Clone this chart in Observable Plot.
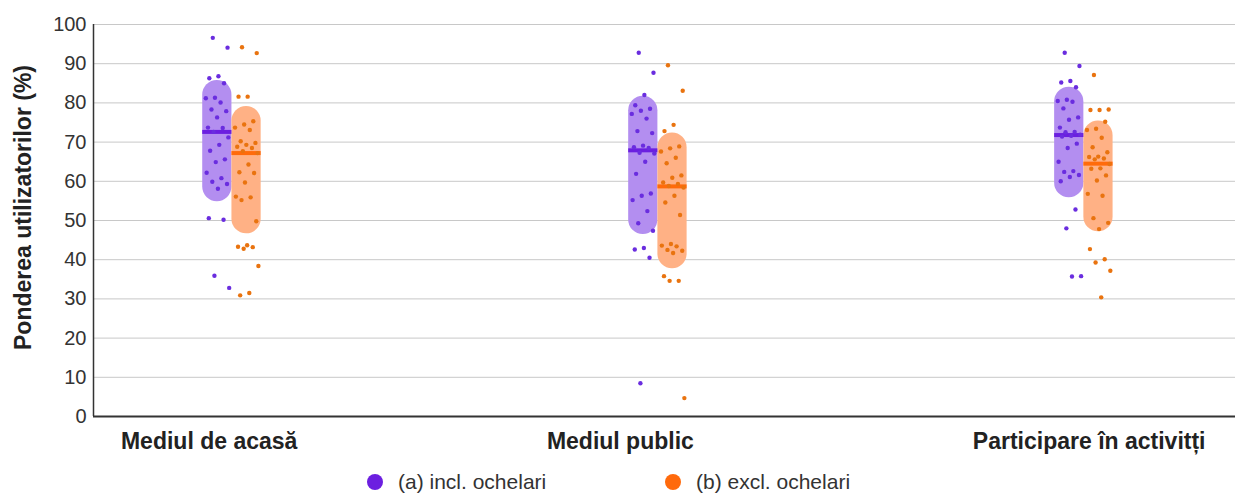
<!DOCTYPE html>
<html>
<head>
<meta charset="utf-8">
<script src="https://cdn.jsdelivr.net/npm/d3@7"></script>
<script src="https://cdn.jsdelivr.net/npm/@observablehq/plot@0.6"></script>
<style>
  body { margin: 0; background: #fff; font-family: "Liberation Sans", Arial, sans-serif; }
  #legend { display: flex; align-items: center; height: 40px; padding-left: 367px; font-size: 21px; color: #333; }
  #legend .item { display: flex; align-items: center; }
  #legend .item:first-child { width: 298px; }
  #legend .swatch { width: 16px; height: 16px; border-radius: 50%; margin-right: 15px; }
</style>
</head>
<body>
<div id="chart"></div>
<div id="legend"></div>
<script>
// Categories (x axis) and the two series
const categories = ["Mediul de acasă", "Mediul public", "Participare în activitți"];
const seriesNames = ["(a) incl. ochelari", "(b) excl. ochelari"];
const yTicks = [0, 10, 20, 30, 40, 50, 60, 70, 80, 90, 100];

// Individual shares (%) per category, including glasses
const acasaIncl = [96.6, 94.1, 86.8, 86.3, 85.0, 81.3, 81.2, 80.1, 78.3, 77.9, 76.3, 73.7, 73.6, 72.6, 71.2, 69.3, 67.8, 65.6, 64.9, 62.2, 60.8, 59.9, 59.3, 58.1, 50.6, 50.2, 35.9, 32.8];
const publicIncl = [92.8, 87.7, 82.0, 79.4, 78.5, 78.0, 77.2, 76.0, 72.8, 72.3, 69.1, 68.7, 68.5, 67.3, 67.1, 65.0, 61.9, 56.9, 56.3, 55.2, 52.4, 49.3, 47.4, 43.0, 42.6, 40.5, 8.5];
const activIncl = [92.8, 89.4, 85.6, 85.2, 84.0, 80.8, 80.5, 80.3, 78.6, 76.3, 75.7, 73.7, 72.6, 72.5, 71.9, 71.6, 71.4, 69.6, 68.5, 65.0, 62.6, 62.4, 61.6, 61.1, 60.0, 52.8, 48.0, 35.8, 35.7];

// Individual shares (%) per category, excluding glasses
const acasaExcl = [94.2, 92.7, 81.6, 81.6, 75.3, 74.5, 73.7, 73.1, 70.2, 69.8, 69.3, 68.8, 68.5, 67.7, 67.2, 64.3, 62.3, 62.1, 59.7, 56.1, 55.9, 55.2, 49.8, 43.7, 43.3, 43.2, 42.8, 38.4, 31.5, 30.9];
const publicExcl = [89.6, 83.1, 74.4, 72.8, 68.9, 68.4, 67.6, 66.0, 64.6, 61.5, 60.9, 59.7, 59.3, 58.8, 58.4, 56.3, 54.6, 51.4, 44.0, 43.6, 43.4, 42.5, 42.3, 41.7, 35.8, 34.6, 34.6, 4.7];
const activExcl = [87.1, 78.3, 78.2, 78.2, 75.2, 73.4, 73.1, 71.1, 68.7, 67.4, 66.3, 66.2, 65.8, 65.6, 64.4, 63.3, 63.2, 61.5, 60.2, 56.8, 56.3, 50.6, 49.4, 47.8, 42.7, 40.1, 39.3, 37.2, 30.4];

// Summary per category: central value and the range of the band
const inclCentre = [72.6, 67.9, 71.8];
const inclLow = [54.8, 46.4, 55.8];
const inclHigh = [85.7, 81.7, 84.0];
const exclCentre = [67.2, 58.7, 64.5];
const exclLow = [46.6, 37.7, 47.1];
const exclHigh = [79.1, 72.3, 75.4];

const colors = {
  dot: ["#6a2ddf", "#e9730f"],
  line: ["#6b1fe0", "#ff6b0b"],
  band: ["#b38ef0", "#ffb185"],
  legend: ["#6c1fe0", "#ff6a0c"]
};

// Layout of the x axis: groups sit at 0, 1, 2; each series takes one half-slot
const xDomain = [-0.325, 2.356];
const slot = 0.0686;      // width of a band
const jitterSpan = 0.028; // half-width of the horizontal spread of dots

const values = [[acasaIncl, acasaExcl], [publicIncl, publicExcl], [activIncl, activExcl]];
const summary = [[inclCentre, inclLow, inclHigh], [exclCentre, exclLow, exclHigh]];

// Deterministic spread of dots around each band centre (golden-ratio sequence)
const spread = k => (((k * 0.6180339887 + 0.31) % 1) - 0.5) * 2 * jitterSpan;

const dots = [];
const bands = [];
categories.forEach((cat, i) => {
  [0, 1].forEach(s => {
    const x1 = s === 0 ? i - slot : i;
    const x2 = s === 0 ? i : i + slot;
    const mid = (x1 + x2) / 2;
    bands.push({cat, s, x1, x2, centre: summary[s][0][i], low: summary[s][1][i], high: summary[s][2][i]});
    values[i][s].forEach((v, k) => dots.push({cat, s, value: v, x: mid + spread(k)}));
  });
});

const chart = Plot.plot({
  width: 1235,
  height: 462,
  marginLeft: 93,
  marginRight: 0,
  marginTop: 24,
  marginBottom: 46,
  style: {fontFamily: "'Liberation Sans', Arial, sans-serif", fontSize: "20px", color: "#333", background: "#fff"},
  x: {type: "linear", domain: xDomain, axis: null},
  y: {domain: [0, 100], ticks: yTicks, tickSize: 0, tickPadding: 7, label: null},
  marks: [
    Plot.ruleY(yTicks, {stroke: "#c8c8c8", strokeWidth: 1}),
    Plot.rect(bands, {x1: "x1", x2: "x2", y1: "low", y2: "high", fill: d => colors.band[d.s], rx: 14.6}),
    Plot.ruleY(bands, {x1: "x1", x2: "x2", y: "centre", stroke: d => colors.line[d.s], strokeWidth: 4}),
    Plot.dot(dots, {x: "x", y: "value", r: 2.2, fill: d => colors.dot[d.s], stroke: null}),
    Plot.ruleX([xDomain[0]], {y1: 0, y2: 100, stroke: "#333", strokeWidth: 1.5}),
    Plot.ruleY([0], {stroke: "#333", strokeWidth: 2}),
    Plot.text(categories, {
      x: (d, i) => i, frameAnchor: "bottom", textAnchor: "start", lineAnchor: "top",
      dx: -111, dy: 16, fontSize: 23, fontWeight: "bold", fill: "#222"
    }),
    Plot.text(["Ponderea utilizatorilor (%)"], {
      frameAnchor: "left", rotate: -90, textAnchor: "middle", lineAnchor: "middle",
      dx: -70, dy: -13, fontSize: 23, fontWeight: "bold", fill: "#222"
    })
  ]
});
document.getElementById("chart").append(chart);

// Legend below the chart
const legend = d3.select("#legend");
seriesNames.forEach((name, s) => {
  const item = legend.append("div").attr("class", "item");
  item.append("div").attr("class", "swatch").style("background", colors.legend[s]);
  item.append("span").text(name);
});
</script>
</body>
</html>
